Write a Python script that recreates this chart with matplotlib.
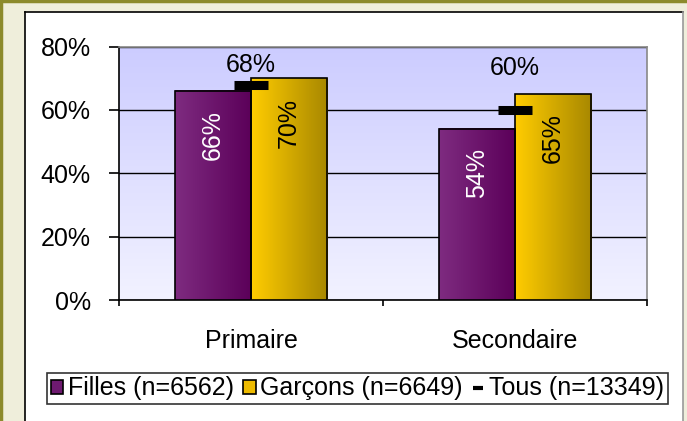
import numpy as np
import matplotlib
matplotlib.use("Agg")
import matplotlib.pyplot as plt
from matplotlib.patches import Patch, Rectangle
from matplotlib.lines import Line2D
from matplotlib.colors import LinearSegmentedColormap

plt.rcParams["font.family"] = ["Liberation Sans", "DejaVu Sans"]

# data
categories = ["Primaire", "Secondaire"]
filles = [66, 54]
garcons = [70, 65]
tous = [68, 60]
tous_label_offset = [14, 30]  # points above the dash
yticks = [0, 20, 40, 60, 80]
ytick_labels = ["0%", "20%", "40%", "60%", "80%"]
legend_labels = ["Filles (n=6562)", "Garçons (n=6649)", "Tous (n=13349)"]

W, H = 687, 421
fig = plt.figure(figsize=(W / 100, H / 100), dpi=100)
fig.patch.set_facecolor("#EFEEDB")

# white chart frame + olive border
frame = Rectangle((25 / W, 0), (683 - 25) / W, 1 - 12 / H, transform=fig.transFigure,
                  facecolor="white", edgecolor="none", zorder=-5)
fig.patches.append(frame)
for xs, ys, c, lw in [([25 / W, 25 / W], [0, 1 - 12 / H], "black", 1.2),
                      ([25 / W, 683 / W], [1 - 12 / H, 1 - 12 / H], "black", 1.2),
                      ([683 / W, 683 / W], [0, 1 - 12 / H], "#999999", 1.2),
                      ([1 / W, 1 / W], [0, 1], "#8C8A2C", 2.5),
                      ([0, 1], [1 - 1 / H, 1 - 1 / H], "#8C8A2C", 2.5)]:
    fig.add_artist(Line2D(xs, ys, color=c, lw=lw, zorder=-4))

ax = fig.add_axes([119 / W, 1 - 300 / H, 528 / W, 253.5 / H])
ax.set_facecolor("none")

# plot area gradient
bg = LinearSegmentedColormap.from_list("bg", ["#F2F2FF", "#CCCCFF"])
ax.imshow(np.linspace(0, 1, 256).reshape(-1, 1), cmap=bg, origin="lower", aspect="auto",
          extent=[0, 1, 0, 1], transform=ax.transAxes, zorder=0)

x = np.arange(len(categories))
bw = 0.288
purple = LinearSegmentedColormap.from_list("p", ["#7E2B80", "#5B0059"])
gold = LinearSegmentedColormap.from_list("g", ["#FFCC00", "#A88800"])

ax.yaxis.grid(True, color="black", lw=1)
ax.set_axisbelow(True)

grad = np.linspace(0, 1, 64).reshape(1, -1)
for vals, off, cm in [(filles, -bw / 2, purple), (garcons, bw / 2, gold)]:
    bars = ax.bar(x + off, vals, bw, facecolor="none", edgecolor="black", lw=1.2, zorder=4)
    for b in bars:
        ax.imshow(grad, cmap=cm, aspect="auto", zorder=3,
                  extent=[b.get_x(), b.get_x() + b.get_width(), 0, b.get_height()])

# value labels inside bars
for i in range(len(categories)):
    ax.annotate(f"{filles[i]}%", (x[i] - bw / 2, filles[i]), xytext=(0, -14),
                textcoords="offset points", rotation=90, ha="center", va="top",
                color="white", fontsize=18, zorder=6)
    ax.annotate(f"{garcons[i]}%", (x[i] + bw / 2, garcons[i]), xytext=(0, -14),
                textcoords="offset points", rotation=90, ha="center", va="top",
                color="black", fontsize=18, zorder=6)

# Tous dashes
ax.plot(x, tous, ls="none", marker="_", ms=24, mew=6.5, color="black", zorder=5)
for i in range(len(categories)):
    ax.annotate(f"{tous[i]}%", (x[i], tous[i]), xytext=(0, tous_label_offset[i]),
                textcoords="offset points", ha="center", va="center", fontsize=18, zorder=6)

ax.set_xlim(-0.5, 1.5)
ax.set_ylim(0, 80)
ax.set_yticks(yticks)
ax.set_yticklabels(ytick_labels, fontsize=18)
ax.tick_params(axis="y", direction="out", length=7.2, width=1.2, pad=13)
ax.set_xticks([-0.5, 0.5, 1.5])
ax.set_xticklabels([])
ax.tick_params(axis="x", which="major", direction="out", length=4.5, width=1.2)
ax.set_xticks(x, minor=True)
ax.set_xticklabels(categories, minor=True, fontsize=18)
ax.tick_params(axis="x", which="minor", length=0, pad=21)

for s in ["left", "bottom"]:
    ax.spines[s].set_color("black")
    ax.spines[s].set_linewidth(1.2)
for s in ["top", "right"]:
    ax.spines[s].set_color("#888888")
    ax.spines[s].set_linewidth(1.2)

handles = [Patch(facecolor="#6E1A70", edgecolor="black", lw=1.2),
           Patch(facecolor="#EEBB00", edgecolor="black", lw=1.2),
           Line2D([], [], ls="none", marker="_", ms=7, mew=3, color="black")]
leg = fig.legend(handles, legend_labels, loc="center", bbox_to_anchor=(357.5 / W, 1 - 388.5 / H),
                 ncol=3, fontsize=18, frameon=True, fancybox=False, edgecolor="black",
                 handlelength=0.5, handleheight=0.5, handletextpad=0.2, columnspacing=0.35,
                 borderpad=0.15, borderaxespad=0)
leg.get_frame().set_linewidth(1.2)

fig.savefig("out.png", dpi=100, facecolor=fig.get_facecolor())
